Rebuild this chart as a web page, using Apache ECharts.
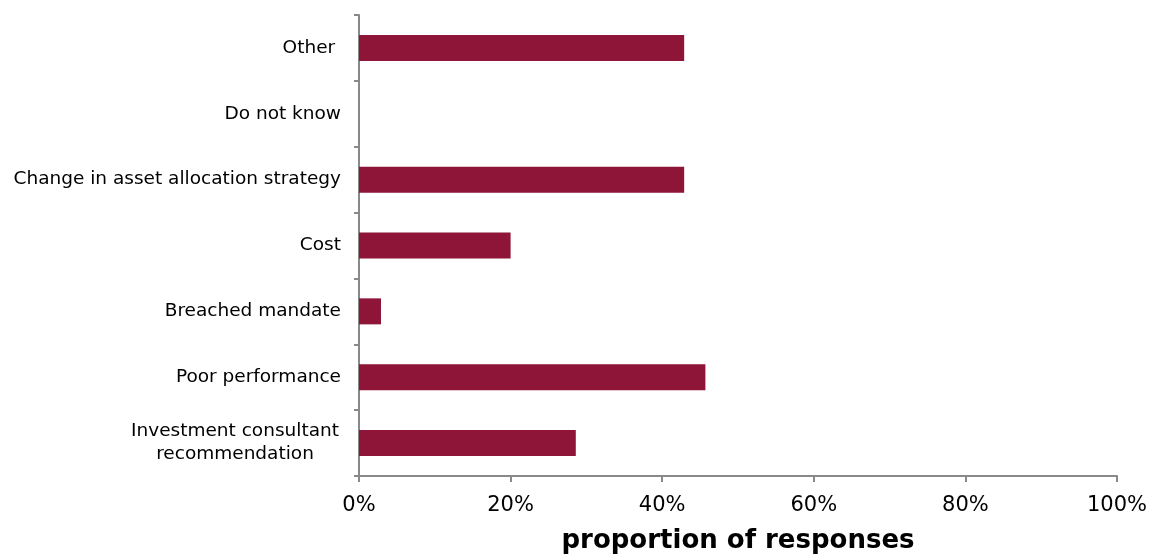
<!DOCTYPE html>
<html>
<head>
<meta charset="utf-8">
<script src="https://cdn.jsdelivr.net/npm/echarts@6/dist/echarts.min.js"></script>
<style>
html,body{margin:0;padding:0;background:#fff;}
#chart{width:1151px;height:554px;}
</style>
</head>
<body>
<div id="chart"></div>
<script>
const categories = [
  'Investment consultant\nrecommendation',
  'Poor performance',
  'Breached mandate',
  'Cost',
  'Change in asset allocation strategy',
  'Do not know',
  'Other '
];
const values = [28.6, 45.7, 2.9, 20.0, 42.9, 0, 42.9];
const xTicks = [0, 20, 40, 60, 80, 100];
const axisTitle = 'proportion of responses';

const chart = echarts.init(document.getElementById('chart'), null, {renderer: 'canvas'});
const axisColor = '#898989';
const font = 'DejaVu Sans, Verdana, sans-serif';
chart.setOption({
  animation: false,
  backgroundColor: '#ffffff',
  grid: {left: 359, right: 34, top: 15, bottom: 78, containLabel: false, outerBoundsMode: 'none'},
  xAxis: {
    type: 'value',
    min: xTicks[0],
    max: xTicks[xTicks.length - 1],
    interval: 20,
    name: axisTitle,
    nameLocation: 'middle',
    nameGap: 52,
    nameTextStyle: {fontFamily: font, fontSize: 26, fontWeight: 'bold', color: '#000'},
    axisLine: {show: true, lineStyle: {color: axisColor, width: 2}},
    axisTick: {show: true, length: 6, lineStyle: {color: axisColor, width: 2}},
    splitLine: {show: false},
    axisLabel: {
      fontFamily: font, fontSize: 21, color: '#000', margin: 19,
      formatter: v => v + '%'
    }
  },
  yAxis: {
    type: 'category',
    data: categories,
    axisLine: {show: true, lineStyle: {color: axisColor, width: 2}},
    axisTick: {show: true, length: 5, lineStyle: {color: axisColor, width: 2}},
    axisLabel: {
      fontFamily: font, fontSize: 18.5, color: '#000', margin: 18,
      formatter: function (v) {
        if (v.indexOf('\n') >= 0) {
          return v.split('\n').map(s => '{c|' + s + '}').join('\n');
        }
        return v;
      },
      rich: {
        c: {fontFamily: font, fontSize: 18.5, color: '#000', width: 212, align: 'center', lineHeight: 23}
      }
    }
  },
  series: [{
    type: 'bar',
    data: values,
    barWidth: 26,
    itemStyle: {color: '#8E1537'}
  }]
});
</script>
</body>
</html>
